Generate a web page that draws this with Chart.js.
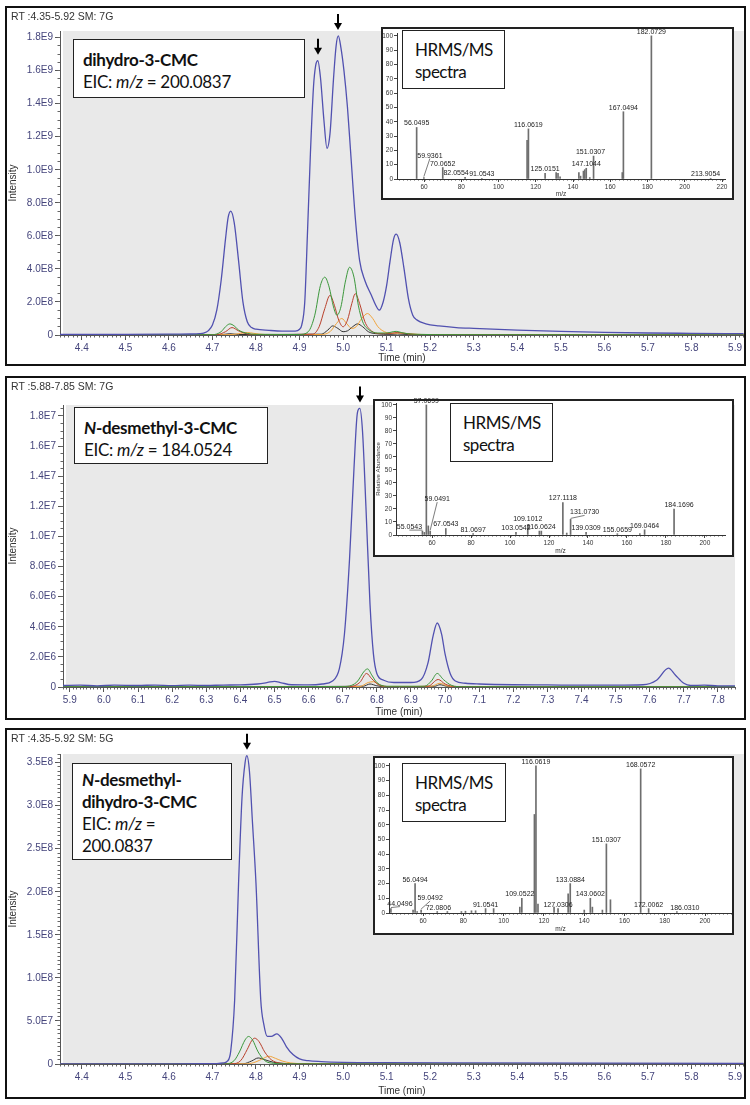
<!DOCTYPE html>
<html><head><meta charset="utf-8">
<script src="https://cdn.jsdelivr.net/npm/chart.js@4"></script>
<style>
body{margin:0;width:750px;height:1105px;background:#fff;position:relative;overflow:hidden;font-family:'Liberation Sans',Arial,sans-serif;}
.panel{position:absolute;border:2px solid #111;box-sizing:border-box;background:#fff;}
.panel canvas{position:absolute;left:0;top:0;}
.hdr{position:absolute;left:4px;top:2px;font-size:10.5px;color:#333;white-space:nowrap;z-index:2;}
.inset{position:absolute;border:2px solid #222;box-sizing:border-box;background:#fff;}
.inset canvas{position:absolute;left:0;top:-6px;}
.hr{position:absolute;border:1.5px solid #222;background:#fff;box-sizing:border-box;font-family:Lato,sans-serif;font-size:17px;letter-spacing:-0.5px;line-height:22px;padding:7.5px 0 0 12px;color:#111;white-space:nowrap;}
.lab{position:absolute;border:1.5px solid #222;background:#fff;box-sizing:border-box;font-family:Lato,sans-serif;font-size:17px;letter-spacing:-0.3px;line-height:22px;padding:8.5px 0 0 9px;color:#111;white-space:nowrap;}
</style></head>
<body>
<div class="panel" style="left:5px;top:6px;width:741px;height:360px"><div class="hdr">RT :4.35-5.92 SM: 7G</div><canvas id="c1" width="737" height="356" style="width:737px;height:356px"></canvas></div>
<div class="panel" style="left:5px;top:376px;width:741px;height:344px"><div class="hdr">RT :5.88-7.85 SM: 7G</div><canvas id="c2" width="737" height="340" style="width:737px;height:340px"></canvas></div>
<div class="panel" style="left:5px;top:728px;width:741px;height:371px"><div class="hdr">RT :4.35-5.92 SM: 5G</div><canvas id="c3" width="737" height="367" style="width:737px;height:367px"></canvas></div>

<div class="inset" style="left:381px;top:27px;width:353px;height:173px"><canvas id="s1" width="349" height="175" style="width:349px;height:175px"></canvas></div>
<div class="inset" style="left:373px;top:399px;width:361px;height:158px"><canvas id="s2" width="357" height="160" style="width:357px;height:160px"></canvas></div>
<div class="inset" style="left:373px;top:756px;width:361px;height:179px"><canvas id="s3" width="357" height="181" style="width:357px;height:181px"></canvas></div>

<div class="hr" style="left:402px;top:30px;width:103px;height:59px">HRMS/MS<br>spectra</div>
<div class="hr" style="left:450px;top:403px;width:103px;height:59px">HRMS/MS<br>spectra</div>
<div class="hr" style="left:402px;top:763px;width:104px;height:59px">HRMS/MS<br>spectra</div>

<div class="lab" style="left:73px;top:39px;width:232px;height:59px"><b>dihydro-3-CMC</b><br>EIC: <i>m/z</i> = 200.0837</div>
<div class="lab" style="left:74px;top:407px;width:194px;height:57px"><b><i>N</i>-desmethyl-3-CMC</b><br>EIC: <i>m/z</i> = 184.0524</div>
<div class="lab" style="left:72px;top:763px;width:160px;height:97px;padding-top:4.5px"><b><i>N</i>-desmethyl-<br>dihydro-3-CMC</b><br>EIC: <i>m/z</i> =<br>200.0837</div>

<script>
// ---------- DATA ----------
// Panel 1: dihydro-3-CMC, intensities in units of 1E9, [time (min), intensity]
const p1Unit = 1e9;
const p1Blue = [[4.35,0.004],[4.40,0.004],[4.50,0.004],[4.60,0.005],[4.65,0.006],[4.67,0.008],[4.68,0.012],[4.69,0.025],[4.70,0.06],[4.71,0.15],[4.72,0.33],[4.73,0.58],[4.736,0.71],[4.742,0.75],[4.75,0.68],[4.76,0.45],[4.77,0.20],[4.78,0.08],[4.79,0.045],[4.80,0.035],[4.83,0.028],[4.86,0.024],[4.89,0.024],[4.90,0.035],[4.905,0.06],[4.912,0.2],[4.918,0.6],[4.925,1.1],[4.932,1.5],[4.937,1.63],[4.942,1.66],[4.948,1.56],[4.956,1.30],[4.963,1.13],[4.97,1.22],[4.978,1.55],[4.984,1.75],[4.989,1.81],[4.995,1.74],[5.002,1.6],[5.01,1.38],[5.017,1.12],[5.028,0.71],[5.038,0.45],[5.05,0.33],[5.065,0.24],[5.075,0.18],[5.083,0.15],[5.092,0.2],[5.10,0.3],[5.108,0.45],[5.116,0.58],[5.122,0.61],[5.13,0.56],[5.14,0.40],[5.15,0.22],[5.16,0.12],[5.17,0.09],[5.19,0.068],[5.22,0.055],[5.26,0.045],[5.30,0.04],[5.40,0.03],[5.50,0.022],[5.60,0.016],[5.70,0.012],[5.80,0.01],[5.92,0.008]];
const p1Green = [[4.35,0.001],[4.70,0.002],[4.72,0.02],[4.73,0.05],[4.74,0.067],[4.75,0.055],[4.76,0.03],[4.78,0.01],[4.80,0.004],[4.90,0.003],[4.92,0.02],[4.935,0.12],[4.948,0.3],[4.958,0.35],[4.968,0.29],[4.978,0.17],[4.986,0.12],[4.995,0.17],[5.005,0.32],[5.015,0.41],[5.025,0.35],[5.035,0.18],[5.045,0.08],[5.06,0.03],[5.08,0.012],[5.10,0.012],[5.115,0.02],[5.122,0.022],[5.135,0.014],[5.16,0.005],[5.25,0.002],[5.92,0.001]];
const p1Red = [[4.35,0.001],[4.71,0.002],[4.73,0.02],[4.745,0.045],[4.76,0.025],[4.78,0.006],[4.80,0.002],[4.93,0.005],[4.945,0.05],[4.958,0.16],[4.97,0.24],[4.98,0.18],[4.99,0.09],[5.0,0.05],[5.01,0.09],[5.02,0.19],[5.028,0.25],[5.038,0.19],[5.05,0.08],[5.065,0.025],[5.085,0.008],[5.11,0.01],[5.125,0.015],[5.14,0.01],[5.17,0.003],[5.92,0.001]];
const p1Orange = [[4.35,0.0],[4.74,0.002],[4.765,0.01],[4.78,0.015],[4.795,0.01],[4.82,0.003],[4.95,0.003],[4.97,0.02],[4.985,0.07],[4.997,0.1],[5.008,0.07],[5.02,0.04],[5.03,0.05],[5.043,0.1],[5.056,0.13],[5.068,0.1],[5.08,0.05],[5.095,0.02],[5.11,0.01],[5.13,0.012],[5.15,0.008],[5.18,0.003],[5.92,0.001]];
const p1Black = [[4.35,0.0],[4.72,0.002],[4.74,0.008],[4.76,0.003],[4.95,0.005],[4.965,0.03],[4.976,0.055],[4.988,0.04],[5.0,0.02],[5.01,0.025],[5.022,0.05],[5.033,0.067],[5.045,0.05],[5.058,0.02],[5.075,0.008],[5.11,0.004],[5.125,0.006],[5.15,0.003],[5.92,0.001]];
const p1Arrows = [4.942, 4.989];

// Panel 2: N-desmethyl-3-CMC, units of 1E6
const p2Unit = 1e6;
const p2Blue = [[5.88,0.1],[5.93,0.12],[5.98,0.08],[6.03,0.12],[6.10,0.1],[6.15,0.13],[6.20,0.09],[6.25,0.12],[6.30,0.1],[6.35,0.13],[6.40,0.14],[6.45,0.2],[6.48,0.3],[6.50,0.38],[6.52,0.28],[6.55,0.15],[6.60,0.14],[6.64,0.2],[6.67,0.4],[6.69,1.2],[6.705,3.5],[6.72,8.5],[6.733,14.5],[6.743,18.2],[6.75,18.5],[6.758,17],[6.768,12],[6.78,5.5],[6.79,2.2],[6.80,0.9],[6.82,0.45],[6.85,0.3],[6.90,0.3],[6.93,0.5],[6.95,1.6],[6.965,3.4],[6.977,4.25],[6.99,3.5],[7.0,2.2],[7.015,0.9],[7.03,0.4],[7.06,0.25],[7.10,0.2],[7.20,0.15],[7.30,0.14],[7.40,0.12],[7.50,0.12],[7.58,0.15],[7.62,0.45],[7.655,1.25],[7.675,0.8],[7.70,0.25],[7.72,0.1],[7.76,0.12],[7.80,0.08],[7.85,0.08]];
const p2Green = [[5.88,0.02],[6.70,0.03],[6.74,0.3],[6.765,1.1],[6.773,1.2],[6.785,0.8],[6.80,0.3],[6.83,0.05],[6.94,0.05],[6.96,0.4],[6.977,0.9],[6.995,0.5],[7.02,0.1],[7.05,0.02],[7.85,0.02]];
const p2Red = [[5.88,0.01],[6.72,0.02],[6.75,0.3],[6.77,0.9],[6.785,0.55],[6.81,0.1],[6.85,0.02],[6.95,0.05],[6.98,0.5],[7.0,0.2],[7.03,0.03],[7.85,0.01]];
const p2Orange = [[5.88,0.0],[6.75,0.03],[6.775,0.3],[6.79,0.35],[6.81,0.1],[6.84,0.02],[6.96,0.05],[6.985,0.25],[7.005,0.08],[7.04,0.01],[7.85,0.0]];
const p2Black = [[5.88,0.0],[6.76,0.05],[6.78,0.2],[6.80,0.08],[6.83,0.01],[6.97,0.05],[6.985,0.15],[7.005,0.05],[7.04,0.0],[7.85,0.0]];
const p2Arrows = [6.75];

// Panel 3: N-desmethyl-dihydro-3-CMC, units of 1E7
const p3Unit = 1e7;
const p3Blue = [[4.35,0.02],[4.50,0.02],[4.60,0.02],[4.68,0.03],[4.71,0.05],[4.725,0.12],[4.735,0.35],[4.742,1.5],[4.751,7.4],[4.76,21],[4.768,31],[4.775,35],[4.779,35.8],[4.785,34],[4.792,28],[4.80,21],[4.811,7.4],[4.818,4.6],[4.826,3.2],[4.835,3.2],[4.848,3.5],[4.86,2.9],[4.87,2.0],[4.885,1.1],[4.90,0.6],[4.92,0.38],[4.95,0.28],[5.0,0.2],[5.1,0.15],[5.3,0.12],[5.6,0.1],[5.92,0.08]];
const p3Green = [[4.35,0.0],[4.73,0.02],[4.75,0.4],[4.762,1.4],[4.775,2.8],[4.783,3.2],[4.792,2.8],[4.805,1.4],[4.82,0.4],[4.84,0.08],[4.87,0.02],[5.92,0.0]];
const p3Red = [[4.35,0.0],[4.745,0.02],[4.765,0.4],[4.78,1.7],[4.79,2.7],[4.797,3.0],[4.807,2.6],[4.82,1.4],[4.835,0.5],[4.855,0.1],[4.88,0.02],[5.92,0.0]];
const p3Black = [[4.35,0.0],[4.77,0.02],[4.79,0.35],[4.805,0.7],[4.82,0.5],[4.84,0.2],[4.87,0.05],[4.90,0.0],[5.92,0.0]];
const p3Orange = [[4.35,0.0],[4.78,0.02],[4.80,0.25],[4.815,0.6],[4.83,0.9],[4.845,0.65],[4.86,0.35],[4.88,0.12],[4.91,0.03],[4.95,0.0],[5.92,0.0]];
const p3Arrows = [4.779];

// HRMS/MS spectra: [m/z, relative abundance]
const s1Peaks = [[56.0495,36],[59.9361,1],[70.0652,8],[82.0554,1.2],[91.0543,0.5],[115.35,27],[116.0619,35],[125.0151,4],[130.95,4.5],[131.95,4],[133.05,1.5],[143.15,4.5],[144.05,2],[145.6,5.5],[146.3,6.5],[147.1044,7.5],[149.0,1],[151.0307,16],[166.45,4.5],[167.0494,47],[182.0729,100],[213.9054,0.5]];
const s1Labelled = [56.0495,59.9361,70.0652,82.0554,91.0543,116.0619,125.0151,147.1044,151.0307,167.0494,182.0729,213.9054];
const s2Peaks = [[55.0543,3],[56.05,2],[57.0699,100],[58.07,7],[59.0491,3],[67.0543,5],[81.0697,1],[103.0542,2],[109.1012,8],[115.05,3],[116.0624,3],[127.1118,25],[129.1,1.5],[131.073,12],[139.0309,2],[155.0659,1],[166.6,1],[169.0464,4],[184.1696,20]];
const s2Labelled = [55.0543,57.0699,59.0491,67.0543,81.0697,103.0542,109.1012,116.0624,127.1118,131.073,139.0309,155.0659,169.0464,184.1696];
const s3Peaks = [[44.0496,3],[55.05,2],[56.0494,20],[57.07,1],[59.0492,2],[67.05,1],[72.0806,1],[79.05,1],[81.07,1.2],[84.05,1.5],[86.1,1.5],[91.0541,3],[95.05,3],[108.05,4],[109.0522,10],[115.3,67],[116.0619,100],[117.07,6],[125.05,4],[127.0306,3],[132.05,13],[133.0884,20],[140.05,2],[143.0602,10],[144.07,4],[149.05,2],[151.0307,47],[153.05,9],[168.0572,98],[172.0062,3],[186.031,1]];
const s3Labelled = [44.0496,56.0494,59.0492,72.0806,91.0541,109.0522,116.0619,127.0306,133.0884,143.0602,151.0307,168.0572,172.0062,186.031];

// ---------- DRAWING ----------
const FONT = "'Liberation Sans', Arial, sans-serif";
const TICK_COLOR = '#45457c';
const COLORS = {blue:'#5151b0', green:'#3b973b', red:'#b8402c', orange:'#f0a33a', black:'#333333'};

function sci(v, unit){
  const r = Math.round(v * 1e4) / 1e4;
  if (Math.abs(r) < 1e-9) return '0';
  const val = r * unit;
  const e = Math.floor(Math.log10(val) + 1e-9);
  const m = val / Math.pow(10, e);
  return m.toFixed(1) + 'E' + e;
}

const plotBg = {id:'plotBg', beforeDraw(chart, args, opts){
  if (!opts || !opts.color) return;
  const {ctx, chartArea:a} = chart;
  ctx.save(); ctx.fillStyle = opts.color;
  ctx.fillRect(a.left + 3, a.top, a.right - a.left - 3, a.bottom - a.top);
  ctx.restore();
}};

const peakArrows = {id:'peakArrows', afterDatasetsDraw(chart, args, opts){
  if (!opts || !opts.times) return;
  const pts = chart.data.datasets[0].data;
  const xs = chart.scales.x, ys = chart.scales.y, ctx = chart.ctx;
  ctx.save(); ctx.fillStyle = '#000'; ctx.strokeStyle = '#000'; ctx.lineWidth = 2;
  opts.times.forEach(t => {
    let best = null;
    pts.forEach(p => { if (Math.abs(p.x - t) <= 0.006 && (!best || p.y > best.y)) best = p; });
    if (!best) return;
    const px = Math.round(xs.getPixelForValue(best.x)), py = ys.getPixelForValue(best.y);
    const tip = py - 6, len = 16, hw = 4, hh = 7;
    ctx.beginPath(); ctx.moveTo(px, tip - len); ctx.lineTo(px, tip - hh + 1); ctx.stroke();
    ctx.beginPath(); ctx.moveTo(px - hw, tip - hh); ctx.lineTo(px + hw, tip - hh); ctx.lineTo(px, tip); ctx.closePath(); ctx.fill();
  });
  ctx.restore();
}};

const peakLabels = {id:'peakLabels', afterDatasetsDraw(chart, args, opts){
  if (!opts || !opts.marks) return;
  const ctx = chart.ctx, xs = chart.scales.x, ys = chart.scales.y;
  ctx.save(); ctx.font = opts.font; ctx.fillStyle = '#222'; ctx.strokeStyle = '#444'; ctx.lineWidth = 0.7;
  ctx.textAlign = 'center'; ctx.textBaseline = 'alphabetic';
  chart.data.datasets[0].data.forEach(p => {
    if (!opts.marks.includes(p.x)) return;
    const px = xs.getPixelForValue(p.x), py = ys.getPixelForValue(p.y);
    const off = (opts.offsets || {})[p.x] || [0, 0, 0];
    const lx = px + off[0], ly = py - 2 + off[1];
    if (off[2]) { ctx.beginPath(); ctx.moveTo(px, py - 1); ctx.lineTo(lx, ly + 1); ctx.stroke(); }
    ctx.fillText(p.x.toFixed(4), lx, ly);
  });
  ctx.restore();
}};

function chrom(id, cfg){
  const datasets = cfg.series.map(s => ({
    data: s.pts.map(p => ({x: p[0], y: p[1]})),
    borderColor: s.color, borderWidth: s.w || 1, pointRadius: 0, fill: false,
    cubicInterpolationMode: 'monotone', xAxisID: 'x', yAxisID: 'y'
  }));
  const tickFont = {size: 10, family: FONT};
  new Chart(document.getElementById(id), {
    type: 'line', data: {datasets}, plugins: [plotBg, peakArrows],
    options: {
      responsive: false, animation: false, devicePixelRatio: 1,
      layout: {padding: {top: cfg.top, right: cfg.right, left: 0, bottom: 0}},
      plugins: {legend: {display: false}, tooltip: {enabled: false}, plotBg: {color: '#e9e9e9'}, peakArrows: {times: cfg.arrows}},
      scales: {
        x: {type: 'linear', axis: 'x', min: cfg.xmin, max: cfg.xmax, position: 'bottom', weight: 1, offset: false,
            ticks: {stepSize: 0.1, includeBounds: false, autoSkip: false, maxRotation: 0, color: TICK_COLOR, font: tickFont, padding: 2, callback: v => v.toFixed(1)},
            grid: {drawOnChartArea: false, tickLength: 5, color: '#555'}, border: {color: '#555'},
            title: {display: true, text: 'Time (min)', color: '#333', font: tickFont, padding: 0},
            afterFit(s){ s.height = cfg.xh; }},
        xm: {type: 'linear', axis: 'x', min: cfg.xmin, max: cfg.xmax, position: 'bottom', weight: 0, offset: false,
            ticks: {stepSize: 0.01, display: false, includeBounds: false},
            grid: {drawOnChartArea: false, tickLength: 2.5, color: '#666'}, border: {display: false},
            afterFit(s){ s.height = 0; }},
        y: {type: 'linear', axis: 'y', min: 0, max: cfg.ymax, position: 'left', weight: 1,
            ticks: {stepSize: cfg.ystep, includeBounds: false, autoSkip: false, color: TICK_COLOR, font: tickFont, padding: 2, callback: v => sci(v, cfg.unit)},
            grid: {drawOnChartArea: false, tickLength: 5, color: '#555'}, border: {color: '#555'},
            title: {display: true, text: 'Intensity', color: '#333', font: tickFont, padding: 0},
            afterFit(s){ s.width = cfg.yw; }},
        ym: {type: 'linear', axis: 'y', min: 0, max: cfg.ymax, position: 'left', weight: 0,
            ticks: {stepSize: cfg.yminor, display: false, includeBounds: false},
            grid: {drawOnChartArea: false, tickLength: 2.5, color: '#666'}, border: {display: false},
            afterFit(s){ s.width = 0; }}
      }
    }
  });
}

function spec(id, cfg){
  const small = {size: 6.5, family: FONT};
  new Chart(document.getElementById(id), {
    type: 'bar',
    data: {datasets: [{data: cfg.peaks.map(p => ({x: p[0], y: p[1]})), backgroundColor: '#6e6e6e', barThickness: 1, borderWidth: 0}]},
    plugins: [peakLabels],
    options: {
      responsive: false, animation: false, devicePixelRatio: 1,
      layout: {padding: {top: cfg.top, right: cfg.right, left: 0, bottom: 0}},
      plugins: {legend: {display: false}, tooltip: {enabled: false}, peakLabels: {marks: cfg.marks, offsets: cfg.offsets, font: '7px ' + FONT}},
      scales: {
        x: {type: 'linear', axis: 'x', min: cfg.xmin, max: cfg.xmax, position: 'bottom', weight: 1, offset: false,
            ticks: {stepSize: 20, includeBounds: false, autoSkip: false, maxRotation: 0, color: '#333', font: small, padding: 1},
            grid: {drawOnChartArea: false, tickLength: 3, color: '#444', offset: false}, border: {color: '#333'},
            title: {display: true, text: 'm/z', color: '#333', font: small, padding: 0},
            afterFit(s){ s.height = cfg.xh; }},
        xm: {type: 'linear', axis: 'x', min: cfg.xmin, max: cfg.xmax, position: 'bottom', weight: 0, offset: false,
            ticks: {stepSize: 2, display: false, includeBounds: false},
            grid: {drawOnChartArea: false, tickLength: 1.5, color: '#555'}, border: {display: false},
            afterFit(s){ s.height = 0; }},
        y: {type: 'linear', axis: 'y', min: 0, max: cfg.ymax, position: 'left', weight: 1,
            ticks: {stepSize: 10, includeBounds: false, autoSkip: false, color: '#333', font: small, padding: 1},
            grid: {drawOnChartArea: false, tickLength: 3, color: '#444'}, border: {color: '#333'},
            title: {display: !!cfg.ytitle, text: cfg.ytitle || '', color: '#333', font: {size: 6, family: FONT}, padding: 0},
            afterFit(s){ s.width = cfg.yw; }}
      }
    }
  });
}

chrom('c1', {unit: p1Unit, xmin: 4.35, xmax: 5.92, ymax: 1.84, ystep: 0.2, yminor: 0.05,
  top: 23, right: 0, yw: 53, xh: 29, arrows: p1Arrows,
  series: [{pts: p1Blue, color: COLORS.blue, w: 1.3}, {pts: p1Green, color: COLORS.green}, {pts: p1Red, color: COLORS.red},
           {pts: p1Orange, color: COLORS.orange}, {pts: p1Black, color: COLORS.black}]});
chrom('c2', {unit: p2Unit, xmin: 5.88, xmax: 7.85, ymax: 18.73, ystep: 2, yminor: 0.5,
  top: 27, right: 9, yw: 56, xh: 31, arrows: p2Arrows,
  series: [{pts: p2Blue, color: COLORS.blue, w: 1.3}, {pts: p2Green, color: COLORS.green}, {pts: p2Red, color: COLORS.red},
           {pts: p2Orange, color: COLORS.orange}, {pts: p2Black, color: COLORS.black}]});
chrom('c3', {unit: p3Unit, xmin: 4.35, xmax: 5.92, ymax: 36, ystep: 5, yminor: 0.5,
  top: 24, right: 0, yw: 53, xh: 33, arrows: p3Arrows,
  series: [{pts: p3Blue, color: COLORS.blue, w: 1.3}, {pts: p3Green, color: COLORS.green}, {pts: p3Red, color: COLORS.red},
           {pts: p3Orange, color: COLORS.orange}, {pts: p3Black, color: COLORS.black}]});

spec('s1', {peaks: s1Peaks, marks: s1Labelled, xmin: 45.5, xmax: 221.6, ymax: 102, top: 10, right: 7, yw: 14, xh: 19,
  offsets: {59.9361: [6, -18, 1], 82.0554: [-9, 0, 0], 213.9054: [-5, 0, 0], 151.0307: [-3, 0, 0]}});
spec('s2', {peaks: s2Peaks, marks: s2Labelled, xmin: 41.5, xmax: 210.3, ymax: 101.5, top: 8, right: 7, yw: 21, xh: 20, ytitle: 'Relative Abundance',
  offsets: {55.0543: [-13, 0, 1], 59.0491: [7, -28, 1], 131.073: [14, -3, 1], 184.1696: [5, 0, 0], 109.1012: [0, -2, 0]}});
spec('s3', {peaks: s3Peaks, marks: s3Labelled, xmin: 43.1, xmax: 213.4, ymax: 102, top: 11, right: 0, yw: 14, xh: 20,
  offsets: {44.0496: [9, -1, 1], 59.0492: [9, -8, 1], 72.0806: [-9, 0, 0], 186.031: [8, 0, 0], 109.0522: [-2, 0, 0]}});
</script>
</body></html>
